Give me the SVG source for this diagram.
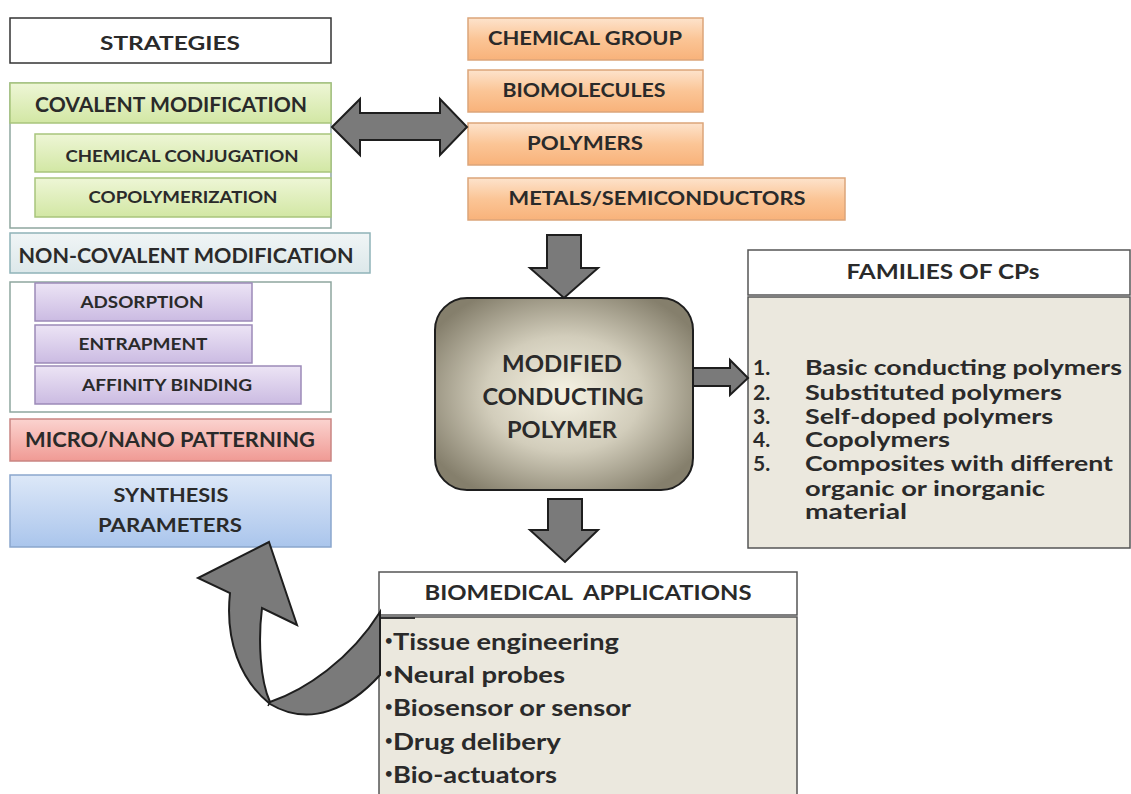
<svg xmlns="http://www.w3.org/2000/svg" width="1131" height="794" viewBox="0 0 1131 794">
<style>
text{font-family:Lato,"Liberation Sans",sans-serif;font-weight:bold;fill:#2a2a2a}
.c{text-anchor:middle}
.b{font-size:13px}
.arrow{fill:#7a7a7a;stroke:#1e1e1e;stroke-width:2;stroke-linejoin:miter}
.orange{fill:url(#gOr);stroke:#dca57a;stroke-width:1.5}
.green{fill:url(#gGr);stroke:#a8c57c;stroke-width:1.5}
.purple{fill:url(#gPu);stroke:#9c8ab8;stroke-width:1.5}
.cont{fill:#fff;stroke:#8ea69f;stroke-width:1.5}
.panel{fill:#ebe8de;stroke:#555;stroke-width:1.5}
.head{fill:#fff;stroke:#555;stroke-width:1.5}
</style>
<defs>
<linearGradient id="gOr" x1="0" y1="0" x2="0" y2="1"><stop offset="0" stop-color="#fde3cc"/><stop offset="0.5" stop-color="#fbc596"/><stop offset="1" stop-color="#f8b27a"/></linearGradient>
<linearGradient id="gGr" x1="0" y1="0" x2="0" y2="1"><stop offset="0" stop-color="#eef6d6"/><stop offset="1" stop-color="#d2e7a4"/></linearGradient>
<linearGradient id="gPu" x1="0" y1="0" x2="0" y2="1"><stop offset="0" stop-color="#ece4f5"/><stop offset="1" stop-color="#cbbbe2"/></linearGradient>
<linearGradient id="gRe" x1="0" y1="0" x2="0" y2="1"><stop offset="0" stop-color="#fbd3cf"/><stop offset="1" stop-color="#f09a94"/></linearGradient>
<linearGradient id="gBl" x1="0" y1="0" x2="0" y2="1"><stop offset="0" stop-color="#dde8f8"/><stop offset="1" stop-color="#aac5ec"/></linearGradient>
<linearGradient id="gNc" x1="0" y1="0" x2="0" y2="1"><stop offset="0" stop-color="#f0f5f6"/><stop offset="1" stop-color="#dce8ea"/></linearGradient>
<radialGradient id="gCen" cx="0.5" cy="0.5" r="0.6"><stop offset="0" stop-color="#f6f3e4"/><stop offset="0.5" stop-color="#d2cdbb"/><stop offset="1" stop-color="#857f6c"/></radialGradient>
</defs>

<g id="strategies">
<rect x="10" y="18" width="321" height="45" fill="#fff" stroke="#333" stroke-width="1.5"/>
<text class="c" x="170" y="50" font-size="19" textLength="140" lengthAdjust="spacingAndGlyphs">STRATEGIES</text>
</g>

<g id="covalent">
<rect class="cont" x="10" y="83" width="321" height="145"/>
<rect class="green" x="10" y="83" width="321" height="40"/>
<text class="c" x="171" y="112" font-size="20" textLength="272" lengthAdjust="spacingAndGlyphs">COVALENT MODIFICATION</text>
</g>
<g id="chemical-conjugation">
<rect class="green" x="35" y="134" width="296" height="38"/>
<text class="c" x="182" y="162" font-size="17" textLength="233" lengthAdjust="spacingAndGlyphs">CHEMICAL CONJUGATION</text>
</g>
<g id="copolymerization">
<rect class="green" x="35" y="178" width="296" height="39"/>
<text class="c" x="183" y="203" font-size="17" textLength="189" lengthAdjust="spacingAndGlyphs">COPOLYMERIZATION</text>
</g>

<g id="non-covalent">
<rect x="10" y="233" width="360" height="40" fill="url(#gNc)" stroke="#8fb3b8" stroke-width="1.5"/>
<text class="c" x="186" y="263" font-size="20" textLength="335" lengthAdjust="spacingAndGlyphs">NON-COVALENT MODIFICATION</text>
</g>
<g id="non-covalent-container">
<rect class="cont" x="10" y="282" width="321" height="130"/>
</g>
<g id="adsorption">
<rect class="purple" x="35" y="283" width="217" height="38"/>
<text class="c" x="142" y="308" font-size="17" textLength="123" lengthAdjust="spacingAndGlyphs">ADSORPTION</text>
</g>
<g id="entrapment">
<rect class="purple" x="35" y="325" width="217" height="38"/>
<text class="c" x="143" y="350" font-size="17" textLength="129" lengthAdjust="spacingAndGlyphs">ENTRAPMENT</text>
</g>
<g id="affinity-binding">
<rect class="purple" x="35" y="366" width="266" height="38"/>
<text class="c" x="167" y="391" font-size="17" textLength="170" lengthAdjust="spacingAndGlyphs">AFFINITY BINDING</text>
</g>

<g id="micro-nano">
<rect x="10" y="419" width="321" height="42" fill="url(#gRe)" stroke="#c98582" stroke-width="1.5"/>
<text class="c" x="170" y="447" font-size="20" textLength="290" lengthAdjust="spacingAndGlyphs">MICRO/NANO PATTERNING</text>
</g>
<g id="synthesis">
<rect x="10" y="475" width="321" height="72" fill="url(#gBl)" stroke="#8aa6cd" stroke-width="1.5"/>
<text class="c" x="171" y="502" font-size="19" textLength="115" lengthAdjust="spacingAndGlyphs">SYNTHESIS</text>
<text class="c" x="170" y="532" font-size="19" textLength="144" lengthAdjust="spacingAndGlyphs">PARAMETERS</text>
</g>

<g id="chemical-group">
<rect class="orange" x="468" y="18" width="235" height="42"/>
<text class="c" x="585" y="45" font-size="19" textLength="194" lengthAdjust="spacingAndGlyphs">CHEMICAL GROUP</text>
</g>
<g id="biomolecules">
<rect class="orange" x="468" y="70" width="235" height="42"/>
<text class="c" x="584" y="97" font-size="19" textLength="163" lengthAdjust="spacingAndGlyphs">BIOMOLECULES</text>
</g>
<g id="polymers">
<rect class="orange" x="468" y="123" width="235" height="42"/>
<text class="c" x="585" y="150" font-size="19" textLength="116" lengthAdjust="spacingAndGlyphs">POLYMERS</text>
</g>
<g id="metals">
<rect class="orange" x="468" y="178" width="377" height="42"/>
<text class="c" x="657" y="205" font-size="19" textLength="297" lengthAdjust="spacingAndGlyphs">METALS/SEMICONDUCTORS</text>
</g>

<g id="modified-cp">
<rect x="435" y="298" width="258" height="192" rx="32" fill="url(#gCen)" stroke="#1e1e1e" stroke-width="2"/>
<text class="c" x="562" y="372" font-size="22" textLength="120" lengthAdjust="spacingAndGlyphs">MODIFIED</text>
<text class="c" x="563" y="405" font-size="22" textLength="161" lengthAdjust="spacingAndGlyphs">CONDUCTING</text>
<text class="c" x="562" y="438" font-size="22" textLength="110" lengthAdjust="spacingAndGlyphs">POLYMER</text>
</g>

<g id="families">
<rect class="head" x="748" y="250" width="382" height="45"/>
<text class="c" x="943" y="279" font-size="20" textLength="193" lengthAdjust="spacingAndGlyphs">FAMILIES OF CPs</text>
<rect class="panel" x="748" y="297" width="382" height="251"/>
<g font-size="21">
<text x="753" y="375">1.</text><text x="805" y="375" textLength="317" lengthAdjust="spacingAndGlyphs">Basic conducting polymers</text>
<text x="753" y="400">2.</text><text x="805" y="400" textLength="257" lengthAdjust="spacingAndGlyphs">Substituted polymers</text>
<text x="753" y="424">3.</text><text x="805" y="424" textLength="248" lengthAdjust="spacingAndGlyphs">Self-doped polymers</text>
<text x="753" y="447">4.</text><text x="805" y="447" textLength="145" lengthAdjust="spacingAndGlyphs">Copolymers</text>
<text x="753" y="471">5.</text><text x="805" y="471" textLength="308" lengthAdjust="spacingAndGlyphs">Composites with different</text>
<text x="805" y="496" textLength="240" lengthAdjust="spacingAndGlyphs">organic or inorganic</text>
<text x="805" y="519" textLength="102" lengthAdjust="spacingAndGlyphs">material</text>
</g>
</g>

<g id="biomedical">
<rect class="head" x="379" y="572" width="418" height="43"/>
<text class="c" x="588" y="600" font-size="20" textLength="327" lengthAdjust="spacingAndGlyphs" xml:space="preserve">BIOMEDICAL  APPLICATIONS</text>
<rect class="panel" x="379" y="617" width="418" height="190"/>
<line x1="380" y1="618" x2="415" y2="618" stroke="#333" stroke-width="2"/>
<g font-size="22">
<text class="b" x="385" y="645">•</text><text x="393" y="650" textLength="226" lengthAdjust="spacingAndGlyphs">Tissue engineering</text>
<text class="b" x="385" y="678">•</text><text x="393" y="683" textLength="172" lengthAdjust="spacingAndGlyphs">Neural probes</text>
<text class="b" x="385" y="711">•</text><text x="393" y="716" textLength="238" lengthAdjust="spacingAndGlyphs">Biosensor or sensor</text>
<text class="b" x="385" y="745">•</text><text x="393" y="750" textLength="168" lengthAdjust="spacingAndGlyphs">Drug delibery</text>
<text class="b" x="385" y="778">•</text><text x="393" y="783" textLength="164" lengthAdjust="spacingAndGlyphs">Bio-actuators</text>
</g>
</g>

<g id="connectors">
<path class="arrow" d="M332,127 L360,99 L360,113 L440,113 L440,99 L467,127 L440,155 L440,140 L360,140 L360,155 Z"/>
<path class="arrow" d="M547,235 L581,235 L581,268 L598,268 L564,298 L530,268 L547,268 Z"/>
<path class="arrow" d="M693,368 L730,368 L730,360 L748,378 L730,395 L730,386 L693,386 Z"/>
<path class="arrow" d="M548,499 L582,499 L582,530 L598,530 L565,562 L530,530 L548,530 Z"/>
<path class="arrow" d="M269,542 L297,625 L262,608 C258,640 260,680 270,702 C305,690 350,660 380,612 L380,675 C350,708 310,728 270,704 C240,680 225,640 230,593 L198,578 Z"/>
<path d="M270,702 L268,706" stroke="#1e1e1e" stroke-width="1.5" fill="none"/>
</g>
</svg>
